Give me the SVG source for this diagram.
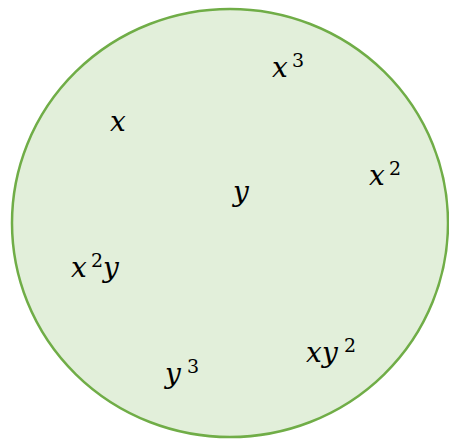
<svg xmlns="http://www.w3.org/2000/svg" width="449" height="439" viewBox="0 0 449 439">
<style>
.v{font-family:"DejaVu Serif",serif;font-style:italic;font-size:28px;fill:#000}
.s{font-family:"DejaVu Serif",serif;font-style:normal;font-size:19px;fill:#000}
</style>
<g id="set">
<ellipse cx="230" cy="223" rx="218" ry="214" fill="#E2EFDA" stroke="#70AD47" stroke-width="2.5"/>
</g>
<g id="connectors"></g>
<g id="n-x"><text class="v" x="110" y="131">x</text></g>
<g id="n-x3"><text class="v" x="272" y="77">x</text><text class="s" x="292" y="67">3</text></g>
<g id="n-x2"><text class="v" x="369" y="185">x</text><text class="s" x="389" y="175">2</text></g>
<g id="n-y"><text class="v" x="233" y="201">y</text></g>
<g id="n-x2y"><text class="v" x="71" y="277">x</text><text class="s" x="91" y="267">2</text><text class="v" x="103" y="277">y</text></g>
<g id="n-y3"><text class="v" x="165" y="383">y</text><text class="s" x="187" y="373">3</text></g>
<g id="n-xy2"><text class="v" x="306" y="362">x</text><text class="v" x="322" y="362">y</text><text class="s" x="344" y="352">2</text></g>
</svg>
